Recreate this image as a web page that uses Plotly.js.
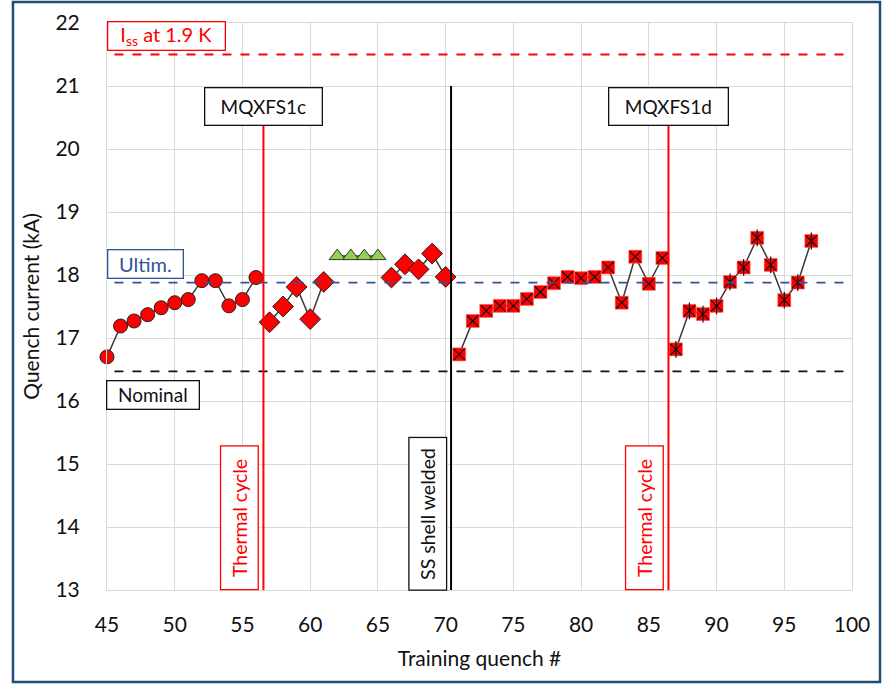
<!DOCTYPE html>
<html>
<head>
<meta charset="utf-8">
<script src="https://cdn.plot.ly/plotly-3.0.1.min.js"></script>
<style>html,body{margin:0;padding:0;background:#fff;}#chart{width:884px;height:684px;}</style>
</head>
<body>
<div id="chart"></div>
<script>
// ---- data ----
const circleX = [45,46,47,48,49,50,51,52,53,54,55,56];
const circleY = [16.70,17.19,17.27,17.37,17.48,17.56,17.61,17.91,17.91,17.51,17.61,17.96];
const diamondAX = [57,58,59,60,61];
const diamondAY = [17.25,17.50,17.81,17.30,17.89];
const triangleX = [62,63,64,65];
const triangleY = [18.30,18.30,18.30,18.30];
const diamondBX = [66,67,68,69,70];
const diamondBY = [17.96,18.17,18.09,18.34,17.97];
const squareAX = [71,72,73,74,75,76,77,78,79,80,81,82,83,84,85,86];
const squareAY = [16.74,17.27,17.43,17.51,17.51,17.62,17.73,17.87,17.97,17.95,17.97,18.12,17.56,18.29,17.86,18.27];
const squareBX = [87,88,89,90,91,92,93,94,95,96,97];
const squareBY = [16.82,17.43,17.38,17.51,17.89,18.12,18.59,18.16,17.60,17.88,18.54];

const hLevels = {iss: 21.5, ultim: 17.88, nominal: 16.47};
const vEvents = [56.55, 70.4, 86.45];

const xTicks = [45,50,55,60,65,70,75,80,85,90,95,100];

// ---- traces ----
const lineStyle = {color:'#3a3a3a', width:1.5};
const red = '#ff0000';
const traces = [
  {x:circleX, y:circleY, mode:'lines+markers', line:lineStyle,
   marker:{symbol:'circle', size:14, color:red, line:{color:'#222', width:1}}},
  {x:diamondAX, y:diamondAY, mode:'lines+markers', line:lineStyle,
   marker:{symbol:'diamond', size:16, color:red, line:{color:'#222', width:1}}},
  {x:triangleX, y:triangleY, mode:'lines+markers', line:lineStyle,
   marker:{symbol:'triangle-up', size:14, color:'#92d050', line:{color:'#333', width:1}}},
  {x:diamondBX, y:diamondBY, mode:'lines+markers', line:lineStyle,
   marker:{symbol:'diamond', size:16, color:red, line:{color:'#222', width:1}}},
  {x:squareAX, y:squareAY, mode:'lines+markers', line:lineStyle,
   marker:{symbol:'square', size:13, color:red, line:{color:'#ff5050', width:0.5}}},
  {x:squareAX, y:squareAY, mode:'markers',
   marker:{symbol:'x-thin-open', size:11, color:'#111', line:{color:'#111', width:1.2}}},
  {x:squareBX, y:squareBY, mode:'lines+markers', line:lineStyle,
   marker:{symbol:'square', size:13, color:red, line:{color:'#ff5050', width:0.5}}},
  {x:squareBX, y:squareBY, mode:'markers',
   marker:{symbol:'x-thin-open', size:11, color:'#111', line:{color:'#111', width:1.2}}},
  {x:squareBX, y:squareBY, mode:'markers',
   marker:{symbol:'line-ns-open', size:12, color:'#111', line:{color:'#111', width:1.2}}}
];
traces.forEach(t => { t.showlegend = false; t.cliponaxis = false; t.hoverinfo = 'x+y'; });

// ---- shapes ----
const shapes = [
  {type:'line', xref:'paper', x0:0.01, x1:1, yref:'y', y0:hLevels.iss, y1:hLevels.iss,
   line:{color:'#ff0000', width:1.8, dash:'dash'}},
  {type:'line', xref:'paper', x0:0.01, x1:1, yref:'y', y0:hLevels.ultim, y1:hLevels.ultim,
   line:{color:'#2f5597', width:1.8, dash:'dash'}},
  {type:'line', xref:'paper', x0:0.01, x1:1, yref:'y', y0:hLevels.nominal, y1:hLevels.nominal,
   line:{color:'#111', width:1.8, dash:'dash'}},
  {type:'line', xref:'x', x0:vEvents[0], x1:vEvents[0], yref:'y', y0:13, y1:20.38,
   line:{color:'#ff0000', width:2}},
  {type:'line', xref:'x', x0:vEvents[1], x1:vEvents[1], yref:'y', y0:13, y1:21,
   line:{color:'#000', width:2}},
  {type:'line', xref:'x', x0:vEvents[2], x1:vEvents[2], yref:'y', y0:13, y1:20.38,
   line:{color:'#ff0000', width:2}},
  {type:'rect', xref:'paper', yref:'paper', x0:-0.1262, x1:1.0376, y0:-0.1623, y1:1.037,
   line:{color:'#1f4e79', width:2.5}, fillcolor:'rgba(0,0,0,0)'}
];

// ---- annotations ----
const fnt = 'Lato, "Liberation Sans", sans-serif';
function box(text, x, y, w, h, col, angle, size) {
  return {text:text, x:x, y:y, xref:'x', yref:'y', showarrow:false,
    xanchor:'center', yanchor:'middle', width:w, height:h, align:'center', valign:'middle',
    bgcolor:'#ffffff', bordercolor:col, borderwidth:1.3, borderpad:0,
    textangle:angle||0, font:{family:fnt, size:size||19, color:col}};
}
const annotations = [
  box('I<sub>ss</sub> at 1.9 K', 49.36, 21.79, 116, 27, '#ff0000', 0, 20),
  box('MQXFS1c', 56.59, 20.68, 116, 36, '#111', 0, 19),
  box('MQXFS1d', 86.42, 20.68, 118, 36, '#111', 0, 19),
  box('Ultim.', 47.81, 18.18, 74, 27, '#2f5597', 0, 20),
  box('Nominal', 48.43, 16.09, 91, 27, '#111', 0, 19),
  box('Thermal cycle', 54.75, 14.14, 142, 36, '#ff0000', -90, 19.5),
  box('SS shell welded', 68.70, 14.21, 151, 36, '#111', -90, 19.5),
  box('Thermal cycle', 84.65, 14.14, 142, 36, '#ff0000', -90, 19.5)
];

const layout = {
  width:884, height:684,
  margin:{l:107, r:32, t:23, b:94},
  paper_bgcolor:'#ffffff', plot_bgcolor:'#ffffff',
  font:{family:fnt, color:'#111'},
  xaxis:{range:[45,100], tickvals:xTicks, ticktext:xTicks.map(String),
    showgrid:true, gridcolor:'#d9d9d9', gridwidth:1, zeroline:false,
    showline:true, linecolor:'#d9d9d9', linewidth:1, mirror:true,
    ticks:'', ticklabelstandoff:16, tickfont:{family:fnt, size:21, color:'#111'},
    title:{text:'Training quench #', font:{family:fnt, size:21, color:'#111'}, standoff:16}},
  yaxis:{range:[13,22], dtick:1, showgrid:true, gridcolor:'#d9d9d9', gridwidth:1, zeroline:false,
    showline:true, linecolor:'#d9d9d9', linewidth:1, mirror:true,
    ticks:'', ticklabelstandoff:22, tickfont:{family:fnt, size:21, color:'#111'},
    title:{text:'Quench current (kA)', font:{family:fnt, size:21, color:'#111'}, standoff:10}},
  shapes:shapes,
  annotations:annotations
};

Plotly.newPlot('chart', traces, layout, {staticPlot:true, displayModeBar:false});
</script>
</body>
</html>
